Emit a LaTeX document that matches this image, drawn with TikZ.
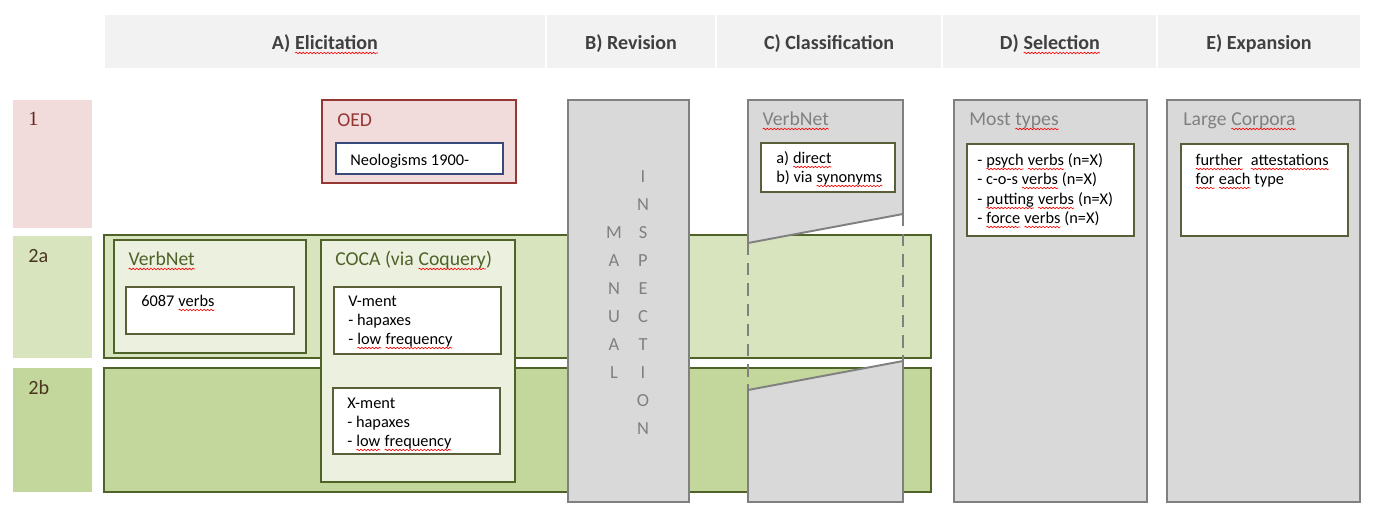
\documentclass[tikz,border=0pt]{standalone}
\usepackage{fontspec}
\setmainfont{Carlito}
\newfontfamily\serifone{Liberation Serif}
\usetikzlibrary{decorations.pathmorphing}
\definecolor{hdr}{HTML}{F2F2F2}
\definecolor{hdrtxt}{HTML}{404040}
\definecolor{pinkf}{HTML}{F2DCDB}
\definecolor{oedred}{HTML}{953735}
\definecolor{lblone}{HTML}{632523}
\definecolor{lbltwo}{HTML}{4A3520}
\definecolor{gA}{HTML}{D7E4BD}
\definecolor{gB}{HTML}{C3D69B}
\definecolor{gC}{HTML}{EBF1DE}
\definecolor{olive}{HTML}{4F6228}
\definecolor{grayf}{HTML}{D9D9D9}
\definecolor{grayl}{HTML}{808080}
\definecolor{boxl}{HTML}{5A5F3A}
\definecolor{navy}{HTML}{3A4A7A}
\newsavebox\sqbox
\newcommand\sq[1]{\sbox\sqbox{#1}\tikz[baseline=0pt]{\node[inner sep=0pt,outer sep=0pt,anchor=base west,draw=none,fill=none] (sqw) at (0pt,0pt) {\usebox\sqbox};\draw[red,line width=0.35pt,decorate,decoration={snake,amplitude=0.45pt,segment length=2pt}] (0pt,-1.7pt) -- (\wd\sqbox,-1.7pt);}}
\tikzset{
  hdrtext/.style={font=\fontsize{11.4}{13}\selectfont\bfseries, text=hdrtxt, anchor=base, inner sep=0pt},
  ttl/.style={font=\fontsize{11.2}{13}\selectfont, anchor=base west, inner sep=0pt},
  body/.style={font=\fontsize{9.3}{11}\selectfont, anchor=base west, inner sep=0pt, text=black},
  lbl/.style={font=\fontsize{11.5}{13}\selectfont, anchor=base west, inner sep=0pt, text=lbltwo},
  vlet/.style={font=\fontsize{10.5}{12}\selectfont, text=grayl, anchor=base, inner sep=0pt},
  band/.style={draw=olive, line width=1.1pt},
  gbox/.style={draw=olive, line width=1.1pt, fill=gC},
  wbox/.style={draw=boxl, line width=0.6pt, fill=white},
  gcol/.style={draw=grayl, line width=1.1pt, fill=grayf},
}
\begin{document}
\begin{tikzpicture}[x=0.02cm,y=-0.02cm]
\useasboundingbox (0,0) rectangle (1381,519);
% header
\fill[hdr] (105,15) rectangle (545,68);
\fill[hdr] (547,15) rectangle (715,68);
\fill[hdr] (717,15) rectangle (941,68);
\fill[hdr] (943,15) rectangle (1156,68);
\fill[hdr] (1158,15) rectangle (1360,68);
\node[hdrtext] (hA) at (325,50) {A) \sq{Elicitation}};
\node[hdrtext] (hB) at (631,50) {B) Revision};
\node[hdrtext] (hC) at (829,50) {C) Classification};
\node[hdrtext] (hD) at (1050,50) {D) \sq{Selection}};
\node[hdrtext] (hE) at (1259,50) {E) Expansion};
% row labels
\fill[pinkf] (13,100) rectangle (92,228);
\fill[gA] (13,236) rectangle (92,358);
\fill[gB] (13,368) rectangle (92,492);
\node[lbl,text=lblone,font=\fontsize{11.5}{13}\serifone] (r1) at (28,126) {1};
\node[lbl] (r2a) at (28,263) {2a};
\node[lbl] (r2b) at (28,395) {2b};
% bands
\draw[band,fill=gA] (104,235) rectangle (931,358);
\draw[band,fill=gB] (104,368) rectangle (931,492);
% VerbNet (A)
\draw[gbox] (114,240) rectangle (306,353);
\node[ttl,text=olive] (vnA) at (128,266) {\sq{VerbNet}};
\draw[wbox] (126,287) rectangle (294,334);
\node[body] (vnAt) at (141,307) {6087 \sq{verbs}};
% COCA
\draw[gbox] (321,240) rectangle (515,482);
\node[ttl,text=olive] (coca) at (335,266) {COCA (via \sq{Coquery})};
\draw[wbox] (334,287) rectangle (501,354);
\node[body] (vm1) at (348,307) {V-ment};
\node[body] (vm2) at (348,326) {- hapaxes};
\node[body] (vm3) at (348,345) {- \sq{low} \sq{frequency}};
\draw[wbox] (333,388) rectangle (500,454);
\node[body] (xm1) at (347,409) {X-ment};
\node[body] (xm2) at (347,428) {- hapaxes};
\node[body] (xm3) at (347,447) {- \sq{low} \sq{frequency}};
% OED
\draw[draw=oedred,line width=1.1pt,fill=pinkf] (322,100) rectangle (516,183);
\node[ttl,text=oedred] (oed) at (337,127) {OED};
\draw[draw=navy,line width=0.6pt,fill=white] (336,143) rectangle (503,174);
\node[body] (neo) at (350,166) {Neologisms 1900-};
% B column
\draw[gcol] (568,100) rectangle (689,502);
\foreach \l [count=\i] in {I,N,S,P,E,C,T,I,O,N}
  \node[vlet] (ins\i) at (643,{183+28*(\i-1)}) {\l};
\foreach \l [count=\i] in {M,A,N,U,A,L}
  \node[vlet] (man\i) at (614,{239+28*(\i-1)}) {\l};
% C column
\draw[gcol,line join=miter] (748,243) -- (748,100) -- (903,100) -- (903,214) -- cycle;
\draw[gcol] (748,390) -- (903,361) -- (903,502) -- (748,502) -- cycle;
\draw[grayl,line width=1pt,dash pattern=on 7pt off 4.5pt] (748,243) -- (748,390);
\draw[grayl,line width=1pt,dash pattern=on 7pt off 4.5pt] (903,214) -- (903,361);
\node[ttl,text=grayl] (vnC) at (762,126) {\sq{VerbNet}};
\draw[wbox] (761,143) rectangle (895,192);
\node[body] (c1) at (776,164) {a) \sq{direct}};
\node[body] (c2) at (776,183) {b) via \sq{synonyms}};
% D column
\draw[gcol] (954,100) rectangle (1147,502);
\node[ttl,text=grayl] (most) at (969,126) {Most \sq{types}};
\draw[wbox] (967,144) rectangle (1134,236);
\node[body] (d1) at (977,166) {- \sq{psych} \sq{verbs} (n=X)};
\node[body] (d2) at (977,185) {- c-o-s \sq{verbs} (n=X)};
\node[body] (d3) at (977,205) {- \sq{putting} \sq{verbs} (n=X)};
\node[body] (d4) at (977,224) {- \sq{force} \sq{verbs} (n=X)};
% E column
\draw[gcol] (1167,100) rectangle (1360,502);
\node[ttl,text=grayl] (large) at (1183,126) {Large \sq{Corpora}};
\draw[wbox] (1181,144) rectangle (1348,236);
\node[body] (e1) at (1195,166) {\sq{further}\ \ \sq{attestations}};
\node[body] (e2) at (1195,185) {\sq{for} \sq{each} type};
\end{tikzpicture}
\end{document}
